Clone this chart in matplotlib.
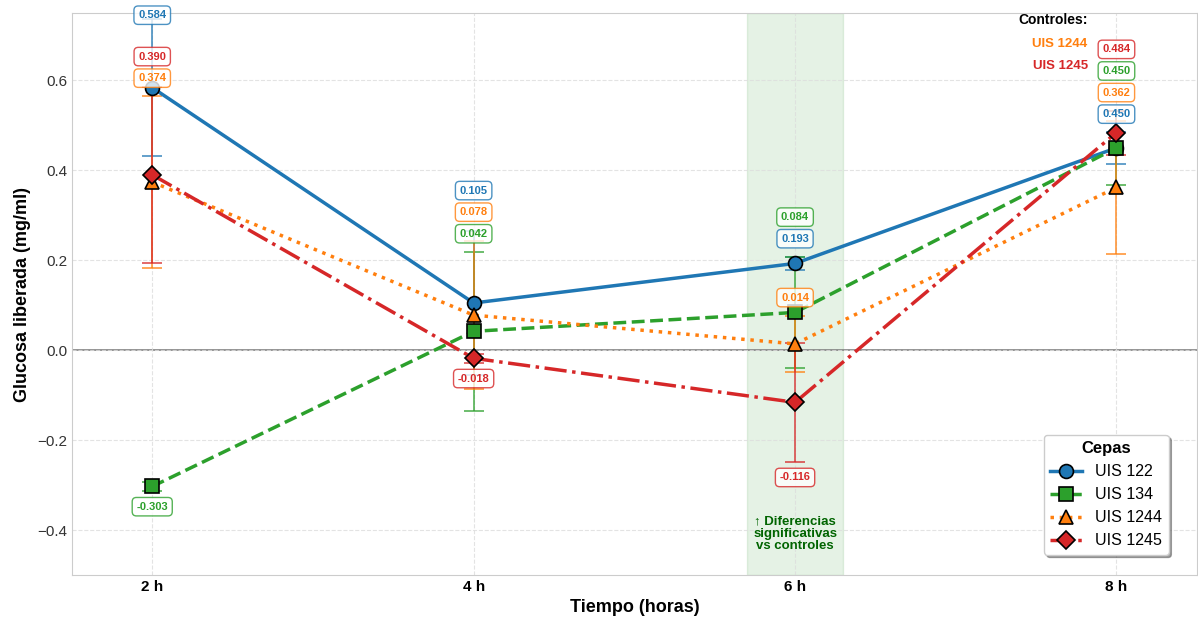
import matplotlib
matplotlib.use("Agg")
import matplotlib.pyplot as plt
import numpy as np

plt.rcParams['font.family'] = ['Liberation Sans', 'DejaVu Sans']

# Datos
tiempos = [2, 4, 6, 8]
etiquetas_x = ["2 h", "4 h", "6 h", "8 h"]
cepas = ["UIS 122", "UIS 134", "UIS 1244", "UIS 1245"]

media_122 = [0.584, 0.105, 0.193, 0.450]
media_134 = [-0.303, 0.042, 0.084, 0.450]
media_1244 = [0.374, 0.078, 0.014, 0.362]
media_1245 = [0.390, -0.018, -0.116, 0.484]

sd_122 = [0.153, 0.160, 0.015, 0.035]
sd_134 = [0.010, 0.177, 0.124, 0.082]
sd_1244 = [0.191, 0.165, 0.063, 0.148]
sd_1245 = [0.195, 0.010, 0.132, 0.049]

medias = [media_122, media_134, media_1244, media_1245]
sds = [sd_122, sd_134, sd_1244, sd_1245]
colores = ['#1f77b4', '#2ca02c', '#ff7f0e', '#d62728']
marcadores = ['o', 's', '^', 'D']
estilos = ['-', '--', ':', '-.']

fig = plt.figure(figsize=(11.98, 6.17), dpi=100)
ax = fig.add_axes([0.060, 0.068, 0.939, 0.911])

# Zona con diferencias
ax.axvspan(5.7, 6.3, color='green', alpha=0.1, zorder=0)
ax.axhline(0, color='gray', lw=1.2, zorder=1)

for i in range(4):
    ax.errorbar(tiempos, medias[i], yerr=sds[i], fmt='none',
                ecolor=colores[i], elinewidth=1.3, capsize=7,
                capthick=1.3, alpha=0.75, zorder=2)
    ax.plot(tiempos, medias[i], color=colores[i], marker=marcadores[i],
            linestyle=estilos[i], lw=2.5,
            markersize=10 if marcadores[i] != 'D' else 9.5,
            markeredgecolor='black', markeredgewidth=1.2,
            label=cepas[i], zorder=3)


def etiqueta(x, y, valor, color):
    ax.text(x, y, f"{valor:.3f}", ha='center', va='center', fontsize=8,
            fontweight='bold', color=color, zorder=5,
            bbox=dict(boxstyle='round,pad=0.38', fc='white',
                      ec=color, alpha=0.8))


# Etiquetas de valores (apiladas para no solaparse)
for j, t in enumerate(tiempos):
    pos = [(medias[i][j] + sds[i][j] + 0.04, i) for i in range(4)
           if medias[i][j] >= 0]
    pos.sort()
    prev = -10
    for base, i in pos:
        y = min(max(base, prev + 0.048), 0.745)
        prev = y
        etiqueta(t, y, medias[i][j], colores[i])
    for i in range(4):
        m = medias[i][j]
        if m < 0:
            etiqueta(t, m - sds[i][j] - 0.035, m, colores[i])

ax.text(6, -0.408, "↑ Diferencias\nsignificativas\nvs controles", ha='center',
        va='center', fontsize=9.5, fontweight='bold', color='darkgreen',
        linespacing=1.05)

ax.text(0.903, 0.988, "Controles:", transform=ax.transAxes, ha='right',
        va='center', fontsize=10, fontweight='bold', color='black')
ax.text(0.903, 0.945, "UIS 1244", transform=ax.transAxes, ha='right',
        va='center', fontsize=9.5, fontweight='bold', color=colores[2])
ax.text(0.903, 0.906, "UIS 1245", transform=ax.transAxes, ha='right',
        va='center', fontsize=9.5, fontweight='bold', color=colores[3])

ax.set_xlim(1.5, 8.5)
ax.set_ylim(-0.5, 0.75)
ax.set_xticks(tiempos)
ax.set_xticklabels(etiquetas_x, fontweight='bold', fontsize=11)
ax.set_yticks([-0.4, -0.2, 0.0, 0.2, 0.4, 0.6])
ax.set_yticklabels(['\u22120.4', '\u22120.2', '0.0', '0.2', '0.4', '0.6'])
ax.tick_params(axis='y', labelsize=11, colors='#333333', length=0)
ax.tick_params(axis='x', length=0)
ax.set_xlabel("Tiempo (horas)", fontsize=13, fontweight='bold')
ax.set_ylabel("Glucosa liberada (mg/ml)", fontsize=13, fontweight='bold')

ax.grid(True, linestyle='--', color='#dddddd', alpha=0.8, lw=0.8)
for s in ax.spines.values():
    s.set_color('#cccccc')

leg = ax.legend(title="Cepas", loc='lower right', fontsize=11.5,
                title_fontproperties={'weight': 'bold', 'size': 12},
                frameon=True, fancybox=True, shadow=True,
                bbox_to_anchor=(0.982, 0.022))
leg.get_frame().set_edgecolor('#cccccc')

fig.savefig("out.png", dpi=100)
